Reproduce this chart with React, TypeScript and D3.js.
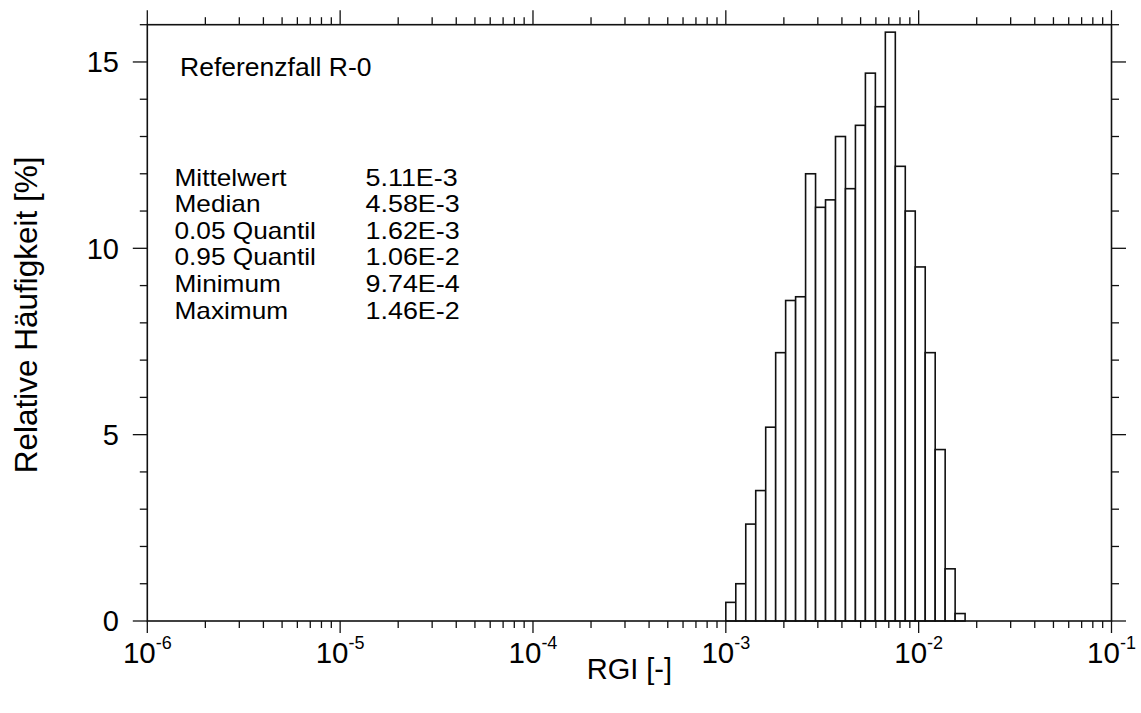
import React from "react";
import * as d3 from "d3";

// ---- data ----
const binEdges = [
  1.0e-3, 1.1264e-3, 1.2688e-3, 1.4292e-3, 1.6099e-3, 1.8134e-3, 2.0427e-3,
  2.3009e-3, 2.5918e-3, 2.9195e-3, 3.2885e-3, 3.7043e-3, 4.1726e-3, 4.7001e-3,
  5.2943e-3, 5.9636e-3, 6.7176e-3, 7.5668e-3, 8.5234e-3, 9.601e-3, 1.08148e-2,
  1.2182e-2, 1.37221e-2, 1.54569e-2, 1.7411e-2,
];
const frequency = [
  0.5, 1.0, 2.6, 3.5, 5.2, 7.2, 8.6, 8.7, 12.0, 11.1, 11.3, 13.0, 11.6, 13.3,
  14.7, 13.8, 15.8, 12.2, 11.0, 9.5, 7.2, 4.6, 1.4, 0.2,
];
const xMajorExponents = [-6, -5, -4, -3, -2, -1];
const yMajorTicks = [0, 5, 10, 15];
const statLabels = ["Mittelwert", "Median", "0.05 Quantil", "0.95 Quantil", "Minimum", "Maximum"];
const statValues = ["5.11E-3", "4.58E-3", "1.62E-3", "1.06E-2", "9.74E-4", "1.46E-2"];
const caseTitle = "Referenzfall R-0";
const xTitle = "RGI [-]";
const yTitle = "Relative Häufigkeit [%]";

const W = 1141;
const H = 713;
const L = 147.3;
const R = 1111.5;
const T = 24.7;
const B = 621;
const FONT = "'Liberation Sans', Arial, Helvetica, sans-serif";

export default function App() {
  const x = d3.scaleLog().domain([1e-6, 1e-1]).range([L, R]);
  const y = d3.scaleLinear().domain([0, 16]).range([B, T]);
  const xTicks = x.ticks();
  const yTicks = d3.range(0, 17);
  const isMajorX = (v: number) => Math.abs(Math.log10(v) - Math.round(Math.log10(v))) < 1e-9;

  return (
    <svg
      width={W}
      height={H}
      style={{ position: "absolute", left: 0, top: 0, background: "#fff" }}
      fontFamily={FONT}
    >
      <rect x={0} y={0} width={W} height={H} fill="#fff" />
      {/* bars */}
      {frequency.map((v, i) => (
        <rect
          key={i}
          x={x(binEdges[i])}
          y={y(v)}
          width={x(binEdges[i + 1]) - x(binEdges[i])}
          height={y(0) - y(v)}
          fill="#fff"
          stroke="#111"
          strokeWidth={1.6}
        />
      ))}
      {/* frame */}
      <rect x={L} y={T} width={R - L} height={B - T} fill="none" stroke="#111" strokeWidth={1.6} />
      {/* x ticks bottom & top */}
      {xTicks.map((v, i) => {
        const major = isMajorX(v);
        const px = x(v);
        return (
          <g key={"xt" + i} stroke="#111" strokeWidth={1.3}>
            <line x1={px} x2={px} y1={B} y2={B + (major ? 12 : 7)} />
            <line x1={px} x2={px} y1={T} y2={T - (major ? 14.5 : 7.5)} />
          </g>
        );
      })}
      {/* y ticks left & right */}
      {yTicks.map((v) => {
        const major = v % 5 === 0;
        const py = y(v);
        return (
          <g key={"yt" + v} stroke="#111" strokeWidth={1.3}>
            <line x1={L} x2={L - (major ? 14.5 : 7.5)} y1={py} y2={py} />
            <line x1={R} x2={R + (major ? 14.5 : 7.5)} y1={py} y2={py} />
          </g>
        );
      })}
      {/* x tick labels */}
      {xMajorExponents.map((e) => (
        <text key={"xl" + e} x={x(Math.pow(10, e))} y={663} textAnchor="middle" fontSize={29.5} fill="#000">
          10
          <tspan dy={-14} fontSize={18}>{String(e)}</tspan>
        </text>
      ))}
      {/* y tick labels */}
      {yMajorTicks.map((v) => (
        <text key={"yl" + v} x={119} y={y(v)} dy="0.36em" textAnchor="end" fontSize={29} fill="#000">
          {v}
        </text>
      ))}
      {/* axis titles */}
      <text x={(L + R) / 2} y={679} textAnchor="middle" fontSize={29} fill="#000">
        {xTitle}
      </text>
      <text
        transform={`translate(36.5, ${(T + B) / 2 - 8}) rotate(-90)`}
        textAnchor="middle"
        fontSize={31.5}
        fill="#000"
      >
        {yTitle}
      </text>
      {/* annotations */}
      <text x={180} y={76} fontSize={26.5} fill="#000">
        {caseTitle}
      </text>
      {statLabels.map((s, i) => (
        <text
          key={"sl" + i}
          transform={`translate(174.5, ${185.5 + i * 26.6}) scale(1.14, 1)`}
          fontSize={23}
          fill="#000"
        >
          {s}
        </text>
      ))}
      {statValues.map((s, i) => (
        <text
          key={"sv" + i}
          transform={`translate(365.5, ${185.5 + i * 26.6}) scale(1.17, 1)`}
          fontSize={23}
          fill="#000"
        >
          {s}
        </text>
      ))}
    </svg>
  );
}
